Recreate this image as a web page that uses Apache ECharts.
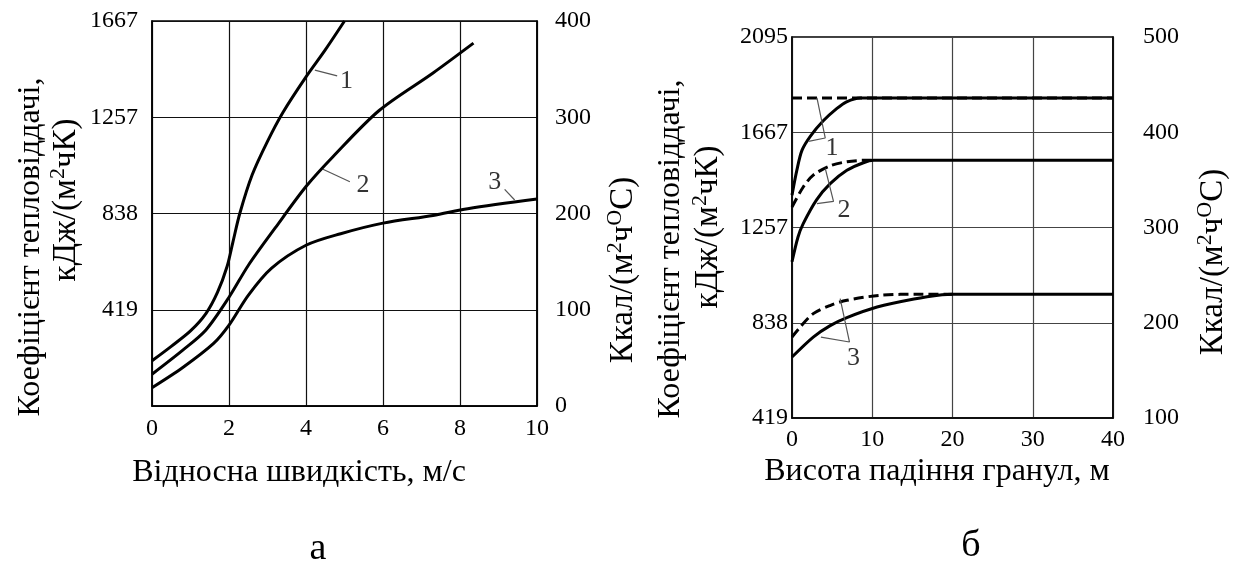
<!DOCTYPE html>
<html>
<head>
<meta charset="utf-8">
<script src="https://cdn.jsdelivr.net/npm/echarts@6/dist/echarts.min.js"></script>
<style>
html,body{margin:0;padding:0;background:#fff;}
#chart{width:1237px;height:568px;}
</style>
</head>
<body>
<div id="chart"></div>
<script>
// ---------- Chart "а": heat transfer coefficient vs relative velocity ----------
const aKjLabels = ['', '419', '838', '1257', '1667'];
const aKcalLabels = ['0', '100', '200', '300', '400'];
const aCurve1 = [[0,47],[0.5,62],[1.0,78],[1.4,96],[1.7,118],[1.95,145],[2.1,170],[2.28,200],[2.6,240],[3.0,275],[3.4,305],[4.0,342],[4.5,370],[5.0,400]];
const aCurve2 = [[0,33],[0.8,58],[1.4,79],[2.0,113],[2.5,146],[3.2,185],[4.0,228],[4.7,259],[5.9,307],[7.3,346],[8.35,377]];
const aCurve3 = [[0,19],[0.8,40],[1.6,65],[2.0,84],[2.5,115],[3.1,143],[4.0,167],[4.9,179],[6.0,190],[7.3,198],[8.2,205],[10,215]];
const aLeader1 = [[4.23,349],[4.81,343]];
const aLeader2 = [[4.44,246],[5.14,233]];
const aLeader3 = [[9.16,225],[9.42,214]];
const aCurveLabels = [{name:'1', value:[5.05,337]}, {name:'2', value:[5.48,229.5]}, {name:'3', value:[8.90,233]}];

// ---------- Chart "б": heat transfer coefficient vs granule fall height ----------
const bKjLabels = ['419', '838', '1257', '1667', '2095'];
const bKcalLabels = ['100', '200', '300', '400', '500'];
const bSolid1 = [[0,334],[0.6,360],[1.24,381],[2.3,396],[3.9,412],[5.6,425],[6.8,432],[8.5,436],[10,436],[40,436]];
const bDash1 = [[0,436],[40,436]];
const bSolid2 = [[0,264],[0.75,290],[1.4,304],[3.06,329],[4.76,346],[6.84,360],[8.9,368],[10.2,370.5],[40,370.5]];
const bDash2 = [[0,321.5],[1.4,342.5],[2.65,355],[4.8,365],[6.84,369],[8.9,370.5],[10.2,370.5]];
const bSolid3 = [[0,164],[2.65,185],[4.76,197],[6.84,205.4],[10.6,216.5],[15.2,225],[18.7,229.5],[20,230],[40,230]];
const bDash3 = [[0,185],[0.87,194],[2.65,209.6],[4.8,218.3],[6.84,223.6],[11,228.8],[16,230],[20,230]];
const bLeader1 = [[3.11,436],[4.14,394],[2.06,390.5]];
const bLeader2 = [[4.15,361.8],[5.17,327.5],[3.11,325.1]];
const bLeader3 = [[6.0,225.4],[7.16,179.8],[3.6,185]];
const bCurveLabels = [{name:'1', value:[4.98,383]}, {name:'2', value:[6.47,318]}, {name:'3', value:[7.66,162.5]}];

const FONT = 'Liberation Serif';
const chart = echarts.init(document.getElementById('chart'), null, {renderer:'canvas'});

function curve(data, xi, yi, dashed, smooth) {
  return {
    type:'line', xAxisIndex:xi, yAxisIndex:yi, data:data, showSymbol:false, symbol:'none',
    smooth: smooth, silent:true, animation:false,
    lineStyle:{color:'#000', width:3, type: dashed ? [10,5] : 'solid'}
  };
}
function leader(data, xi, yi) {
  return {
    type:'line', xAxisIndex:xi, yAxisIndex:yi, data:data, showSymbol:false, symbol:'none',
    silent:true, animation:false, lineStyle:{color:'#555', width:1.2}
  };
}
function labels(data, xi, yi) {
  return {
    type:'scatter', xAxisIndex:xi, yAxisIndex:yi, data:data, symbolSize:0, silent:true, animation:false,
    label:{show:true, position:'inside', formatter:'{b}', color:'#000', fontFamily:FONT, fontSize:26}
  };
}
const tickFont = {color:'#000', fontFamily:FONT, fontSize:24};

function rtext(x, y, text, rot, size, sup) {
  return {
    type:'text', x:x, y:y, rotation: rot ? Math.PI/2 : 0, silent:true,
    style:{text:text, fontFamily:FONT, fontSize:size, fill:'#000', align:'center', verticalAlign:'middle',
      lineHeight:size + 4,
      rich:{s:{fontSize:sup || 21, fontFamily:FONT, verticalAlign:'top', lineHeight:sup || 21, fill:'#000', color:'#000'}}}
  };
}

const option = {
  backgroundColor:'#fff',
  animation:false,
  grid:[
    {left:152, top:21, width:385, height:385, show:true, borderColor:'#000', borderWidth:1.5, backgroundColor:'transparent'},
    {left:792, top:37, width:321, height:381, show:true, borderColor:'#000', borderWidth:1.5, backgroundColor:'transparent'}
  ],
  xAxis:[
    {type:'value', gridIndex:0, min:0, max:10, interval:2,
      axisLine:{show:true, lineStyle:{color:'#000', width:1.5}}, axisTick:{show:false},
      axisLabel:Object.assign({margin:11}, tickFont),
      splitLine:{show:true, lineStyle:{color:'#111', width:1.2}}},
    {type:'value', gridIndex:1, min:0, max:40, interval:10,
      axisLine:{show:true, lineStyle:{color:'#000', width:1.5}}, axisTick:{show:false},
      axisLabel:Object.assign({margin:10}, tickFont),
      splitLine:{show:true, lineStyle:{color:'#444', width:1.2}}}
  ],
  yAxis:[
    {type:'value', gridIndex:0, min:0, max:400, interval:100, position:'left',
      axisLine:{show:true, lineStyle:{color:'#000', width:1.5}}, axisTick:{show:false},
      axisLabel:Object.assign({margin:14, formatter:(v,i)=>aKjLabels[i]}, tickFont),
      splitLine:{show:true, lineStyle:{color:'#111', width:1.2}}},
    {type:'value', gridIndex:0, min:0, max:400, interval:100, position:'right',
      axisLine:{show:true, lineStyle:{color:'#000', width:1.5}}, axisTick:{show:false},
      axisLabel:Object.assign({margin:18, formatter:(v,i)=>aKcalLabels[i]}, tickFont),
      splitLine:{show:false}},
    {type:'value', gridIndex:1, min:100, max:500, interval:100, position:'left',
      axisLine:{show:true, lineStyle:{color:'#000', width:1.5}}, axisTick:{show:false},
      axisLabel:Object.assign({margin:4, formatter:(v,i)=>bKjLabels[i]}, tickFont),
      splitLine:{show:true, lineStyle:{color:'#444', width:1.2}}},
    {type:'value', gridIndex:1, min:100, max:500, interval:100, position:'right',
      axisLine:{show:true, lineStyle:{color:'#000', width:1.5}}, axisTick:{show:false},
      axisLabel:Object.assign({margin:30, formatter:(v,i)=>bKcalLabels[i]}, tickFont),
      splitLine:{show:false}}
  ],
  series:[
    curve(aCurve1,0,0,false,0.3),
    curve(aCurve2,0,0,false,0.3),
    curve(aCurve3,0,0,false,0.3),
    leader(aLeader1,0,0), leader(aLeader2,0,0), leader(aLeader3,0,0),
    labels(aCurveLabels,0,0),
    curve(bDash1,1,2,true,false),
    curve(bDash2,1,2,true,0.3),
    curve(bDash3,1,2,true,0.3),
    curve(bSolid1,1,2,false,0.3),
    curve(bSolid2,1,2,false,0.3),
    curve(bSolid3,1,2,false,0.3),
    leader(bLeader1,1,2), leader(bLeader2,1,2), leader(bLeader3,1,2),
    labels(bCurveLabels,1,2)
  ],
  graphic:[
    rtext(31, 247, 'Коефіцієнт тепловіддачі,', true, 32),
    rtext(66, 200, 'кДж/(м{s|2}чК)', true, 33, 22),
    rtext(623, 270, 'Ккал/(м{s|2}ч{s|O}С)', true, 33, 22),
    rtext(299, 473, 'Відносна швидкість, м/с', false, 32),
    rtext(318, 549, 'а', false, 38),
    rtext(671, 249, 'Коефіцієнт тепловіддачі,', true, 32),
    rtext(708, 227, 'кДж/(м{s|2}чК)', true, 33, 22),
    rtext(1213, 262, 'Ккал/(м{s|2}ч{s|O}С)', true, 33, 22),
    rtext(937, 472, 'Висота падіння гранул, м', false, 32),
    rtext(971, 546, 'б', false, 38)
  ]
};
chart.setOption(option);
</script>
</body>
</html>
